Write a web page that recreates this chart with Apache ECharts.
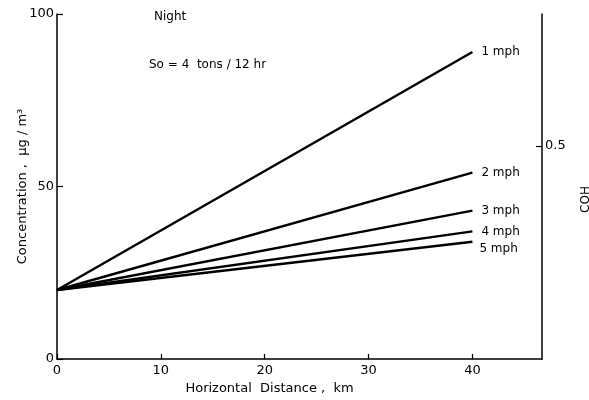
<!DOCTYPE html>
<html>
<head>
<meta charset="utf-8">
<script src="https://cdn.jsdelivr.net/npm/echarts@6/dist/echarts.min.js"></script>
<style>html,body{margin:0;padding:0;background:#fff}#c{width:589px;height:400px}</style>
</head>
<body>
<div id="c"></div>
<script>
const seriesNames = ['1 mph', '2 mph', '3 mph', '4 mph', '5 mph'];
const distances = [0, 40];
const startValues = [20, 20, 20, 20, 20];
const endValues = [89, 54, 43, 37, 34];
const xTicks = [0, 10, 20, 30, 40];
const yTicks = [0, 50, 100];
const cohTicks = [0.5];

const FONT = 'DejaVu Sans';
const chart = echarts.init(document.getElementById('c'), null, {renderer: 'canvas'});
const labelOffsets = [[0, 0], [0, 0], [0, 0], [0, 1], [-2, 7]];

const series = seriesNames.map((n, i) => ({
  name: n,
  type: 'line',
  data: [[distances[0], startValues[i]], [distances[1], endValues[i]]],
  symbol: 'none',
  lineStyle: {color: '#000', width: 2.4},
  endLabel: {
    show: true, formatter: n, color: '#000', fontFamily: FONT, fontSize: 12,
    distance: 9, offset: labelOffsets[i]
  },
  silent: true, animation: false
}));

chart.setOption({
  animation: false,
  grid: {left: 57, right: 47, top: 14, bottom: 41, outerBoundsMode: 'none', containLabel: false},
  xAxis: {
    type: 'value', min: 0, max: 46.7, interval: 10,
    axisLine: {lineStyle: {color: '#000', width: 1.5}},
    axisTick: {inside: true, length: 5, lineStyle: {color: '#000', width: 1.2}, customValues: xTicks},
    axisLabel: {color: '#000', fontFamily: FONT, fontSize: 13, margin: 5, customValues: xTicks},
    splitLine: {show: false},
    name: 'Horizontal  Distance ,  km', nameLocation: 'middle', nameGap: 23, nameMoveOverlap: false,
    nameTextStyle: {color: '#000', fontFamily: FONT, fontSize: 13, padding: [0, 60, 0, 0]}
  },
  yAxis: [{
    type: 'value', min: 0, max: 100, interval: 50,
    axisLine: {show: true, lineStyle: {color: '#000', width: 1.5}},
    axisTick: {show: true, inside: true, length: 6, lineStyle: {color: '#000', width: 1.2}, customValues: yTicks},
    axisLabel: {color: '#000', fontFamily: FONT, fontSize: 13, margin: 3, customValues: yTicks},
    splitLine: {show: false},
    name: 'Concentration ,  μg / m³', nameLocation: 'middle', nameGap: 28, nameRotate: 90, nameMoveOverlap: false,
    nameTextStyle: {color: '#000', fontFamily: FONT, fontSize: 13}
  }, {
    type: 'value', position: 'right', min: 0, max: 0.81,
    axisLine: {show: true, lineStyle: {color: '#000', width: 1.5}},
    axisTick: {show: true, inside: true, length: 6, lineStyle: {color: '#000', width: 1.2}, customValues: cohTicks},
    axisLabel: {color: '#000', fontFamily: FONT, fontSize: 13, margin: 3, customValues: cohTicks, formatter: v => v.toFixed(1)},
    splitLine: {show: false},
    name: 'COH', nameLocation: 'middle', nameGap: 38, nameRotate: 90,
    nameTextStyle: {color: '#000', fontFamily: FONT, fontSize: 12, padding: [0, 26, 0, 0]}
  }],
  graphic: [
    {type: 'text', left: 154, top: 11, style: {text: 'Night', fill: '#000', font: '12px "DejaVu Sans"'}},
    {type: 'text', left: 149, top: 59, style: {text: 'So = 4  tons / 12 hr', fill: '#000', font: '12px "DejaVu Sans"'}}
  ],
  series: series
});
</script>
</body>
</html>
